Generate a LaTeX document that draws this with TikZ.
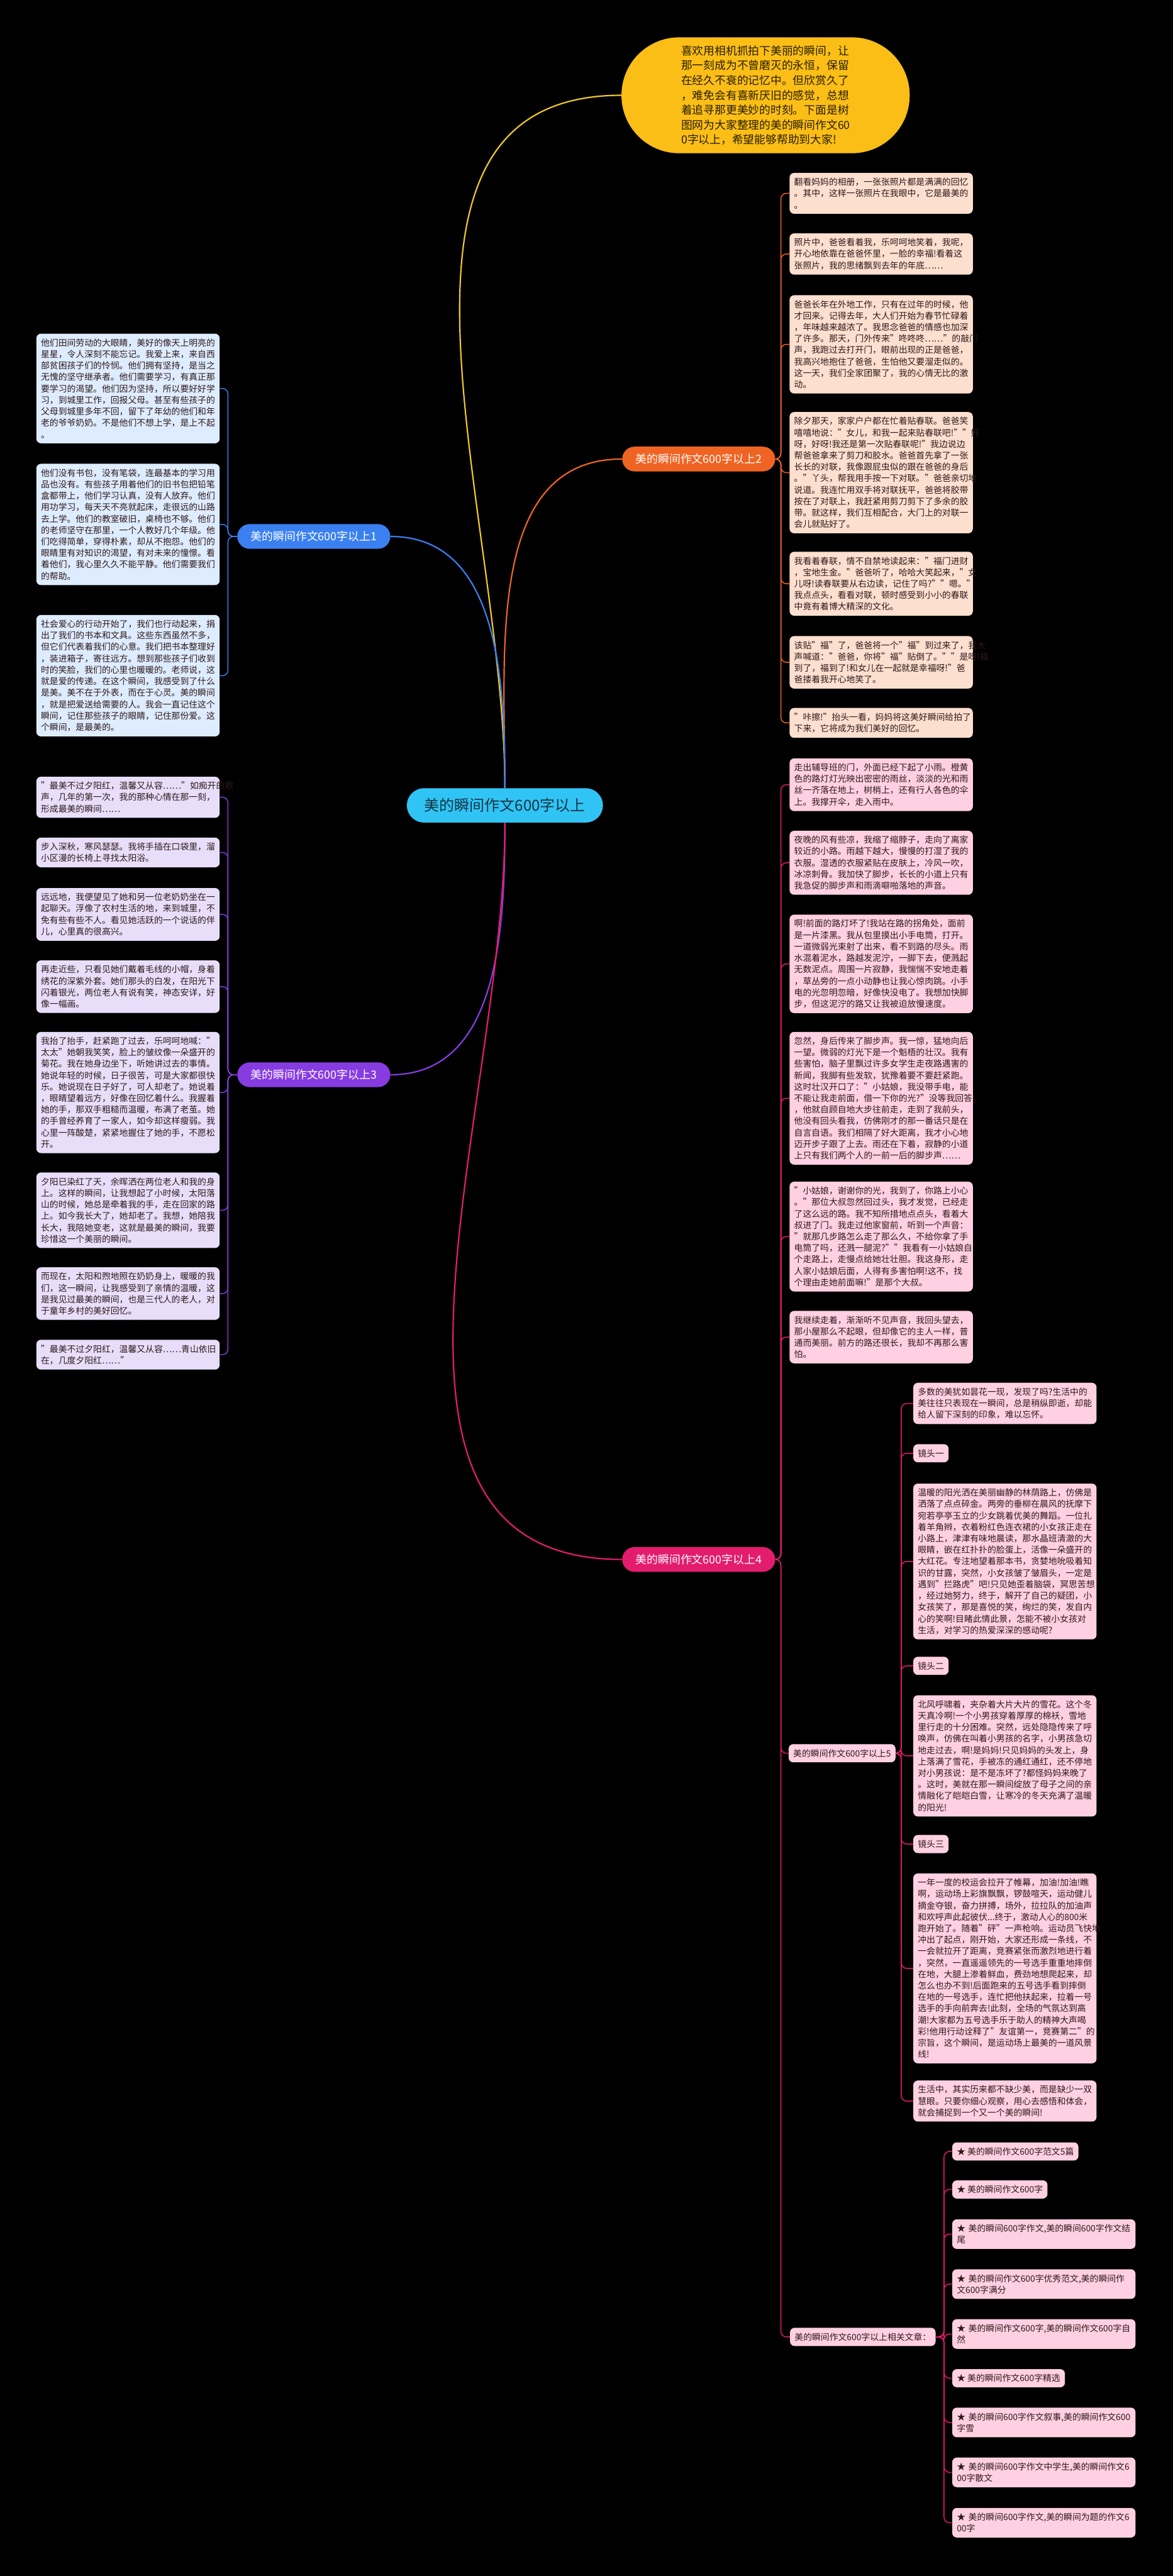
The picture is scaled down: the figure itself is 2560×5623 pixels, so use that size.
\documentclass[tikz,border=0pt]{standalone}
\usepackage{fontspec}
\setmainfont{Noto Sans CJK SC}
\usetikzlibrary{positioning}
\definecolor{rootblue}{RGB}{48,196,245}
\definecolor{roottext}{RGB}{22,52,66}
\definecolor{introyellow}{RGB}{251,190,22}
\definecolor{introtext}{RGB}{40,30,0}
\definecolor{lineyellow}{RGB}{240,200,40}
\definecolor{oneblue}{RGB}{58,128,240}
\definecolor{onefill}{RGB}{222,236,255}
\definecolor{twoorange}{RGB}{240,100,35}
\definecolor{twofill}{RGB}{252,223,207}
\definecolor{threepurple}{RGB}{135,60,225}
\definecolor{threefill}{RGB}{232,222,250}
\definecolor{fourpink}{RGB}{228,28,110}
\definecolor{fourfill}{RGB}{255,208,226}
\definecolor{boxtext}{RGB}{45,25,25}

\begin{document}
\begin{tikzpicture}[x=0.5pt,y=-0.5pt,
  root/.style={rectangle,rounded corners=18.75pt,fill=rootblue,text=roottext,minimum height=37.5pt,minimum width=214pt,font=\fontsize{16.5}{18}\selectfont},
  intro/.style={rectangle,rounded corners=63pt,fill=introyellow,text=introtext,minimum height=126.5pt,minimum width=314.5pt,text width=184pt,align=left,font=\fontsize{12.2}{16.2}\selectfont},
  branch/.style={rectangle,rounded corners=13.5pt,minimum height=27pt,minimum width=167pt,text=white,font=\fontsize{12.25}{14}\selectfont},
  leaf/.style={rectangle,rounded corners=5pt,inner xsep=5pt,inner ysep=5.5pt,text width=190pt,align=left,text=boxtext,anchor=north west,font=\fontsize{9.5}{12.5}\selectfont},
  tag/.style={rectangle,rounded corners=5pt,inner xsep=5pt,inner ysep=5.5pt,text=boxtext,font=\fontsize{9.5}{12.5}\selectfont},
  link/.style={line width=1.5pt},
  twig/.style={line width=1pt,rounded corners=6pt},
]
\fill[black] (0,0) rectangle (2560,5623);

% centre and main branches
\node[root] (root) at (1102,1758) {美的瞬间作文600字以上};
\node[intro] (intro) at (1671,208) {喜欢用相机抓拍下美丽的瞬间，让\\那一刻成为不曾磨灭的永恒，保留\\在经久不衰的记忆中。但欣赏久了\\，难免会有喜新厌旧的感觉，总想\\着追寻那更美妙的时刻。下面是树\\图网为大家整理的美的瞬间作文60\\0字以上，希望能够帮助到大家!};
\node[branch,fill=oneblue] (one) at (685,1171) {美的瞬间作文600字以上1};
\node[branch,fill=twoorange] (two) at (1525,1002) {美的瞬间作文600字以上2};
\node[branch,fill=threepurple] (three) at (685,2346) {美的瞬间作文600字以上3};
\node[branch,fill=fourpink] (four) at (1525,3404) {美的瞬间作文600字以上4};

\draw[link,lineyellow] (root.north) to[out=90,in=180] (intro.west);
\draw[link,twoorange] (root.north) to[out=90,in=180] (two.west);
\draw[link,oneblue] (root.north) to[out=90,in=0] (one.east);
\draw[link,threepurple] (root.south) to[out=-90,in=0] (three.east);
\draw[link,fourpink] (root.south) to[out=-90,in=180] (four.west);

% branch 1
\node[leaf,fill=onefill] (a1) at (79,728) {他们田间劳动的大眼睛，美好的像天上明亮的\\星星，令人深刻不能忘记。我爱上来，来自西\\部贫困孩子们的怜悯。他们拥有坚持，是当之\\无愧的坚守继承者。他们需要学习，有真正那\\要学习的渴望。他们因为坚持，所以要好好学\\习，到城里工作，回报父母。甚至有些孩子的\\父母到城里多年不回，留下了年幼的他们和年\\老的爷爷奶奶。不是他们不想上学，是上不起\\。};
\node[leaf,fill=onefill] (a2) at (79,1012) {他们没有书包，没有笔袋，连最基本的学习用\\品也没有。有些孩子用着他们的旧书包把铅笔\\盒都带上，他们学习认真，没有人放弃。他们\\用功学习，每天天不亮就起床，走很远的山路\\去上学。他们的教室破旧，桌椅也不够。他们\\的老师坚守在那里，一个人教好几个年级。他\\们吃得简单，穿得朴素，却从不抱怨。他们的\\眼睛里有对知识的渴望，有对未来的憧憬。看\\着他们，我心里久久不能平静。他们需要我们\\的帮助。};
\node[leaf,fill=onefill] (a3) at (79,1342) {社会爱心的行动开始了，我们也行动起来，捐\\出了我们的书本和文具。这些东西虽然不多，\\但它们代表着我们的心意。我们把书本整理好\\，装进箱子，寄往远方。想到那些孩子们收到\\时的笑脸，我们的心里也暖暖的。老师说，这\\就是爱的传递。在这个瞬间，我感受到了什么\\是美。美不在于外表，而在于心灵。美的瞬间\\，就是把爱送给需要的人。我会一直记住这个\\瞬间，记住那些孩子的眼睛，记住那份爱。这\\个瞬间，是最美的。};
\foreach \k in {a1,a2,a3}
  \draw[twig,oneblue] (one.west) -- ++(-20,0) |- (\k.east);

% branch 2
\node[leaf,fill=twofill] (b1) at (1723,377) {翻看妈妈的相册，一张张照片都是满满的回忆\\。其中，这样一张照片在我眼中，它是最美的\\。};
\node[leaf,fill=twofill] (b2) at (1723,509) {照片中，爸爸看着我，乐呵呵地笑着，我呢，\\开心地依靠在爸爸怀里，一脸的幸福!看着这\\张照片，我的思绪飘到去年的年底……};
\node[leaf,fill=twofill] (b3) at (1723,644) {爸爸长年在外地工作，只有在过年的时候，他\\才回来。记得去年，大人们开始为春节忙碌着\\，年味越来越浓了。我思念爸爸的情感也加深\\了许多。那天，门外传来"咚咚咚……"的敲门\\声，我跑过去打开门，眼前出现的正是爸爸，\\我高兴地抱住了爸爸，生怕他又要溜走似的。\\这一天，我们全家团聚了，我的心情无比的激\\动。};
\node[leaf,fill=twofill] (b4) at (1723,899) {除夕那天，家家户户都在忙着贴春联。爸爸笑\\嘻嘻地说："女儿，和我一起来贴春联吧!""好\\呀，好呀!我还是第一次贴春联呢!"我边说边\\帮爸爸拿来了剪刀和胶水。爸爸首先拿了一张\\长长的对联，我像跟屁虫似的跟在爸爸的身后\\。"丫头，帮我用手按一下对联。"爸爸亲切地\\说道。我连忙用双手将对联抚平，爸爸将胶带\\按在了对联上，我赶紧用剪刀剪下了多余的胶\\带。就这样，我们互相配合，大门上的对联一\\会儿就贴好了。};
\node[leaf,fill=twofill] (b5) at (1723,1204) {我看着春联，情不自禁地读起来："福门进财\\，宝地生金。"爸爸听了，哈哈大笑起来，"女\\儿呀!读春联要从右边读，记住了吗?""嗯。"\\我点点头，看看对联，顿时感受到小小的春联\\中竟有着博大精深的文化。};
\node[leaf,fill=twofill] (b6) at (1723,1388) {该贴"福"了，爸爸将一个"福"到过来了，我大\\声喊道："爸爸，你将"福"贴倒了。""是呀!福\\到了，福到了!和女儿在一起就是幸福呀!"爸\\爸搂着我开心地笑了。};
\node[leaf,fill=twofill] (b7) at (1723,1545) {"咔擦!"抬头一看，妈妈将这美好瞬间给拍了\\下来，它将成为我们美好的回忆。};
\foreach \k in {b1,b2,b3,b4,b5,b6,b7}
  \draw[twig,twoorange] (two.east) -- ++(12,0) |- (\k.west);

% branch 3
\node[leaf,fill=threefill] (d1) at (79,1695) {"最美不过夕阳红，温馨又从容……"如痴开的歌\\声，几年的第一次，我的那种心情在那一刻，\\形成最美的瞬间……};
\node[leaf,fill=threefill] (d2) at (79,1828) {步入深秋，寒风瑟瑟。我将手插在口袋里，溜\\小区漫的长椅上寻找太阳浴。};
\node[leaf,fill=threefill] (d3) at (79,1938) {远远地，我便望见了她和另一位老奶奶坐在一\\起聊天。浮像了农村生活的地，来到城里，不\\免有些有些不人。看见她活跃的一个说话的伴\\儿，心里真的很高兴。};
\node[leaf,fill=threefill] (d4) at (79,2096) {再走近些，只看见她们戴着毛线的小帽，身着\\绣花的深紫外套。她们那头的白发，在阳光下\\闪着银光，两位老人有说有笑，神态安详，好\\像一幅画。};
\node[leaf,fill=threefill] (d5) at (79,2252) {我抬了抬手，赶紧跑了过去，乐呵呵地喊："\\太太"她朝我笑笑，脸上的皱纹像一朵盛开的\\菊花。我在她身边坐下，听她讲过去的事情。\\她说年轻的时候，日子很苦，可是大家都很快\\乐。她说现在日子好了，可人却老了。她说着\\，眼睛望着远方，好像在回忆着什么。我握着\\她的手，那双手粗糙而温暖，布满了老茧。她\\的手曾经养育了一家人，如今却这样瘦弱。我\\心里一阵酸楚，紧紧地握住了她的手，不愿松\\开。};
\node[leaf,fill=threefill] (d6) at (79,2559) {夕阳已染红了天，余晖洒在两位老人和我的身\\上。这样的瞬间，让我想起了小时候，太阳落\\山的时候，她总是牵着我的手，走在回家的路\\上。如今我长大了，她却老了。我想，她陪我\\长大，我陪她变老，这就是最美的瞬间，我要\\珍惜这一个美丽的瞬间。};
\node[leaf,fill=threefill] (d7) at (79,2766) {而现在，太阳和煦地照在奶奶身上，暖暖的我\\们，这一瞬间，让我感受到了亲情的温暖，这\\是我见过最美的瞬间，也是三代人的老人，对\\于童年乡村的美好回忆。};
\node[leaf,fill=threefill] (d8) at (79,2924) {"最美不过夕阳红，温馨又从容……青山依旧\\在，几度夕阳红……"};
\foreach \k in {d1,d2,d3,d4,d5,d6,d7,d8}
  \draw[twig,threepurple] (three.west) -- ++(-20,0) |- (\k.east);

% branch 4
\node[leaf,fill=fourfill] (c1) at (1723,1655) {走出辅导班的门，外面已经下起了小雨。橙黄\\色的路灯灯光映出密密的雨丝，淡淡的光和雨\\丝一齐落在地上，树梢上，还有行人各色的伞\\上。我撑开伞，走入雨中。};
\node[leaf,fill=fourfill] (c2) at (1723,1813) {夜晚的风有些凉，我缩了缩脖子，走向了离家\\较近的小路。雨越下越大，慢慢的打湿了我的\\衣服。湿透的衣服紧贴在皮肤上，冷风一吹，\\冰凉刺骨。我加快了脚步，长长的小道上只有\\我急促的脚步声和雨滴噼啪落地的声音。};
\node[leaf,fill=fourfill] (c3) at (1723,1996) {啊!前面的路灯坏了!我站在路的拐角处，面前\\是一片漆黑。我从包里摸出小手电筒，打开。\\一道微弱光束射了出来，看不到路的尽头。雨\\水混着泥水，路越发泥泞，一脚下去，便溅起\\无数泥点。周围一片寂静，我惴惴不安地走着\\，草丛旁的一点小动静也让我心惊肉跳。小手\\电的光忽明忽暗，好像快没电了。我想加快脚\\步，但这泥泞的路又让我被迫放慢速度。};
\node[leaf,fill=fourfill] (c4) at (1723,2252) {忽然，身后传来了脚步声。我一惊，猛地向后\\一望。微弱的灯光下是一个魁梧的壮汉。我有\\些害怕，脑子里飘过许多女学生走夜路遇害的\\新闻，我脚有些发软，犹豫着要不要赶紧跑。\\这时壮汉开口了："小姑娘，我没带手电，能\\不能让我走前面，借一下你的光?"没等我回答\\，他就自顾自地大步往前走，走到了我前头，\\他没有回头看我，仿佛刚才的那一番话只是在\\自言自语。我们相隔了好大距离，我才小心地\\迈开步子跟了上去。雨还在下着，寂静的小道\\上只有我们两个人的一前一后的脚步声……};
\node[leaf,fill=fourfill] (c5) at (1723,2579) {"小姑娘，谢谢你的光，我到了，你路上小心\\。"那位大叔忽然回过头，我才发觉，已经走\\了这么远的路。我不知所措地点点头，看着大\\叔进了门。我走过他家窗前，听到一个声音：\\"就那几步路怎么走了那么久，不给你拿了手\\电筒了吗，还溅一腿泥?""我看有一小姑娘自\\个走路上，走慢点给她壮壮胆。我这身形，走\\人家小姑娘后面，人得有多害怕啊!这不，找\\个理由走她前面嘛!"是那个大叔。};
\node[leaf,fill=fourfill] (c6) at (1723,2861) {我继续走着，渐渐听不见声音，我回头望去，\\那小屋那么不起眼，但却像它的主人一样，普\\通而美丽。前方的路还很长，我却不再那么害\\怕。};
\node[tag,fill=fourfill,anchor=west] (five) at (1721,3827) {美的瞬间作文600字以上5};
\node[tag,fill=fourfill,anchor=west] (rel) at (1724,5101) {美的瞬间作文600字以上相关文章：};
\foreach \k in {c1,c2,c3,c4,c5,c6,five,rel}
  \draw[twig,fourpink] (four.east) -- ++(12,0) |- (\k.west);

% branch 5
\node[leaf,fill=fourfill] (e1) at (1993,3018) {多数的美犹如昙花一现，发现了吗?生活中的\\美往往只表现在一瞬间，总是稍纵即逝，却能\\给人留下深刻的印象，难以忘怀。};
\node[tag,fill=fourfill,anchor=north west] (s1) at (1993,3152) {镜头一};
\node[leaf,fill=fourfill] (e2) at (1993,3238) {温暖的阳光洒在美丽幽静的林荫路上，仿佛是\\洒落了点点碎金。两旁的垂柳在晨风的抚摩下\\宛若亭亭玉立的少女跳着优美的舞蹈。一位扎\\着羊角辫，衣着粉红色连衣裙的小女孩正走在\\小路上，津津有味地晨读，那水晶班清澈的大\\眼睛，嵌在红扑扑的脸蛋上，活像一朵盛开的\\大红花。专注地望着那本书，贪婪地吮吸着知\\识的甘露，突然，小女孩皱了皱眉头，一定是\\遇到"拦路虎"吧!只见她歪着脑袋，冥思苦想\\，经过她努力，终于，解开了自己的疑团，小\\女孩笑了，那是喜悦的笑，绚烂的笑，发自内\\心的笑啊!目睹此情此景，怎能不被小女孩对\\生活，对学习的热爱深深的感动呢?};
\node[tag,fill=fourfill,anchor=north west] (s2) at (1993,3616) {镜头二};
\node[leaf,fill=fourfill] (e3) at (1993,3700) {北风呼啸着，夹杂着大片大片的雪花。这个冬\\天真冷啊!一个小男孩穿着厚厚的棉袄，雪地\\里行走的十分困难。突然，远处隐隐传来了呼\\唤声，仿佛在叫着小男孩的名字，小男孩急切\\地走过去，啊!是妈妈!只见妈妈的头发上，身\\上落满了雪花，手被冻的通红通红，还不停地\\对小男孩说：是不是冻坏了?都怪妈妈来晚了\\。这时，美就在那一瞬间绽放了母子之间的亲\\情融化了皑皑白雪，让寒冷的冬天充满了温暖\\的阳光!};
\node[tag,fill=fourfill,anchor=north west] (s3) at (1993,4005) {镜头三};
\node[leaf,fill=fourfill] (e4) at (1993,4089) {一年一度的校运会拉开了帷幕，加油!加油!瞧\\啊，运动场上彩旗飘飘，锣鼓喧天，运动健儿\\摘金夺银，奋力拼搏，场外，拉拉队的加油声\\和欢呼声此起彼伏...终于，激动人心的800米\\跑开始了。随着"砰"一声枪响。运动员飞快地\\冲出了起点，刚开始，大家还形成一条线，不\\一会就拉开了距离，竞赛紧张而激烈地进行着\\，突然，一直遥遥领先的一号选手重重地摔倒\\在地，大腿上渗着鲜血，费劲地想爬起来，却\\怎么也办不到!后面跑来的五号选手看到摔倒\\在地的一号选手，连忙把他扶起来，拉着一号\\选手的手向前奔去!此刻，全场的气氛达到高\\潮!大家都为五号选手乐于助人的精神大声喝\\彩!他用行动诠释了"友谊第一，竞赛第二"的\\宗旨，这个瞬间，是运动场上最美的一道风景\\线!};
\node[leaf,fill=fourfill] (e5) at (1993,4541) {生活中，其实历来都不缺少美，而是缺少一双\\慧眼。只要你细心观察，用心去感悟和体会，\\就会捕捉到一个又一个美的瞬间!};
\foreach \k in {e1,s1,e2,s2,e3,s3,e4,e5}
  \draw[twig,fourpink] (five.east) -- ++(12,0) |- (\k.west);

% related articles
\node[tag,fill=fourfill,anchor=north west] (r1) at (2078,4676) {★ 美的瞬间作文600字范文5篇};
\node[tag,fill=fourfill,anchor=north west] (r2) at (2078,4759) {★ 美的瞬间作文600字};
\node[leaf,fill=fourfill] (r3) at (2078,4844) {★ 美的瞬间600字作文,美的瞬间600字作文结\\尾};
\node[leaf,fill=fourfill] (r4) at (2078,4953) {★ 美的瞬间作文600字优秀范文,美的瞬间作\\文600字满分};
\node[leaf,fill=fourfill] (r5) at (2078,5062) {★ 美的瞬间作文600字,美的瞬间作文600字自\\然};
\node[tag,fill=fourfill,anchor=north west] (r6) at (2078,5171) {★ 美的瞬间作文600字精选};
\node[leaf,fill=fourfill] (r7) at (2078,5255) {★ 美的瞬间600字作文叙事,美的瞬间作文600\\字雪};
\node[leaf,fill=fourfill] (r8) at (2078,5364) {★ 美的瞬间600字作文中学生,美的瞬间作文6\\00字散文};
\node[leaf,fill=fourfill] (r9) at (2078,5474) {★ 美的瞬间600字作文,美的瞬间为题的作文6\\00字};
\foreach \k in {r1,r2,r3,r4,r5,r6,r7,r8,r9}
  \draw[twig,fourpink] (rel.east) -- ++(18,0) |- (\k.west);
\end{tikzpicture}
\end{document}
